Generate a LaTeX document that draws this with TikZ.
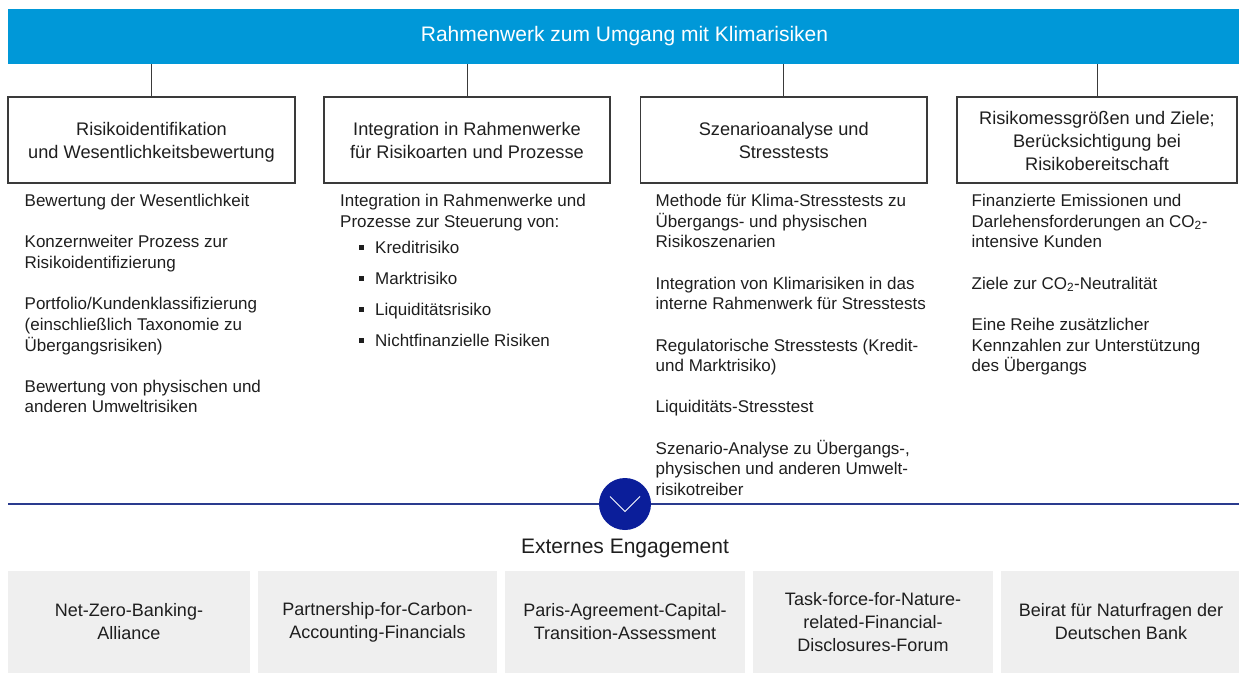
\documentclass[tikz,border=0pt]{standalone}
\usepackage{fontspec}
\setmainfont{Liberation Sans}
\usetikzlibrary{calc}
\definecolor{topblue}{HTML}{0098D8}
\definecolor{navy}{HTML}{0B1E9A}
\definecolor{navyline}{HTML}{2A3B8E}
\definecolor{boxgrey}{HTML}{EFEFEF}
\definecolor{framegrey}{HTML}{3A3A3A}
\definecolor{txt}{HTML}{1E1E1E}
\newcommand{\bul}{\hspace*{19pt}\raisebox{4pt}{\rule{4.5pt}{4.5pt}}\hspace*{11.5pt}}
\newcommand{\tst}{\rule[-4pt]{0pt}{22pt}}
\begin{document}
\begin{tikzpicture}[x=1pt,y=-1pt,
  titlebox/.style={draw=framegrey,line width=1.1pt,minimum height=86pt,align=center,
    font=\fontsize{18.2}{23}\selectfont,inner sep=0,text=txt},
  coltext/.style={anchor=north west,inner sep=0,align=left,
    font=\fontsize{17}{20.7}\selectfont,text=txt},
  engbox/.style={fill=boxgrey,minimum height=102pt,align=center,
    font=\fontsize{18}{23}\selectfont,inner sep=0,text=txt},
  conn/.style={draw=framegrey,line width=1pt},
  hline/.style={draw=navyline,line width=1.3pt}]

\useasboundingbox (0,0) rectangle (1239,672);

% top bar
\node[fill=topblue,minimum width=1233pt,minimum height=55pt,inner sep=0,text=white,
  font=\fontsize{21}{25}\selectfont] (bar) at (624.5,36.5) {Rahmenwerk zum Umgang mit Klimarisiken};

% title boxes
\node[titlebox,minimum width=287pt] (b1) at (151.5,140) {\tst Risikoidentifikation\\und Wesentlichkeitsbewertung\tst};
\node[titlebox,minimum width=286pt] (b2) at (467,140) {\tst Integration in Rahmenwerke\\für Risikoarten und Prozesse\tst};
\node[titlebox,minimum width=286.5pt] (b3) at (783.75,140) {\tst Szenarioanalyse und\\Stresstests\tst};
\node[titlebox,minimum width=280pt] (b4) at (1097,140) {\tst Risikomessgrößen und Ziele;\\Berücksichtigung bei\\Risikobereitschaft\tst};

\foreach \b in {b1,b2,b3,b4}
  \draw[conn] (\b.north) -- (\b.north |- bar.south);

% column texts
\node[coltext] (c1) at (24.5,194) {Bewertung der Wesentlichkeit\\[20.5pt]
Konzernweiter Prozess zur\\Risikoidentifizierung\\[20.5pt]
Portfolio/Kundenklassifizierung\\(einschließlich Taxonomie zu\\Übergangsrisiken)\\[20.5pt]
Bewertung von physischen und\\anderen Umweltrisiken};

\node[coltext] (c2) at (340,194) {Integration in Rahmenwerke und\\Prozesse zur Steuerung von:\\[6pt]
\bul Kreditrisiko\\[10.3pt]
\bul Marktrisiko\\[10.3pt]
\bul Liquiditätsrisiko\\[10.3pt]
\bul Nichtfinanzielle Risiken};

\node[coltext] (c3) at (655.5,194) {Methode für Klima-Stresstests zu\\Übergangs- und physischen\\Risikoszenarien\\[20.5pt]
Integration von Klimarisiken in das\\interne Rahmenwerk für Stresstests\\[20.5pt]
Regulatorische Stresstests (Kredit-\\und Marktrisiko)\\[20.5pt]
Liquiditäts-Stresstest\\[20.5pt]
Szenario-Analyse zu Übergangs-,\\physischen und anderen Umwelt-\\risikotreiber};

\node[coltext] (c4) at (971.5,194) {Finanzierte Emissionen und\\Darlehensforderungen an CO\textsubscript{2}-\\intensive Kunden\\[20.5pt]
Ziele zur CO\textsubscript{2}-Neutralität\\[20.5pt]
Eine Reihe zusätzlicher\\Kennzahlen zur Unterstützung\\des Übergangs};

% separator line with circle
\coordinate (hl) at (8,504);
\coordinate (hr) at (1239,504);
\node[circle,fill=navy,minimum size=52pt,inner sep=0] (circ) at (625,504) {};
\draw[hline] (hl) -- (circ.west);
\draw[hline] (circ.east) -- (hr);
\draw[white,line width=0.9pt] ($(circ.center)+(-15,-7.5)$) -- ($(circ.center)+(0,7.5)$) -- ($(circ.center)+(15,-7.5)$);

% external engagement
\node[inner sep=0,text=txt,font=\fontsize{21}{25}\selectfont] (ext) at (625,548) {Externes Engagement};

\node[engbox,minimum width=242pt] (e1) at (129,622) {Net-Zero-Banking-\\Alliance};
\node[engbox,minimum width=239pt] (e2) at (377.5,622) {Partnership-for-Carbon-\\Accounting-Financials};
\node[engbox,minimum width=240pt] (e3) at (625,622) {Paris-Agreement-Capital-\\Transition-Assessment};
\node[engbox,minimum width=240pt] (e4) at (873,622) {Task-force-for-Nature-\\related-Financial-\\Disclosures-Forum};
\node[engbox,minimum width=240pt] (e5) at (1121,622) {Beirat für Naturfragen der\\Deutschen Bank};
\end{tikzpicture}
\end{document}
